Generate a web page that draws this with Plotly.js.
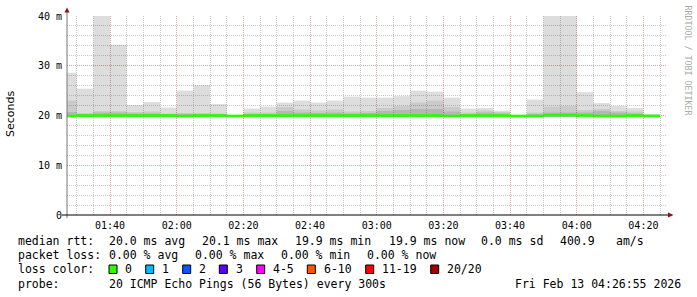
<!DOCTYPE html>
<html>
<head>
<meta charset="utf-8">
<script src="https://cdn.plot.ly/plotly-3.0.1.min.js"></script>
<style>
  html, body { margin: 0; padding: 0; background: #ffffff; }
  #chart { width: 697px; height: 297px; }
</style>
</head>
<body>
<div id="chart"></div>
<script>
// ---- data ----
const day = '2026-02-13';
const intervalEnds = ['01:30','01:35','01:40','01:45','01:50','01:55','02:00','02:05','02:10','02:15','02:20','02:25',
  '02:30','02:35','02:40','02:45','02:50','02:55','03:00','03:05','03:10','03:15','03:20','03:25',
  '03:30','03:35','03:40','03:45','03:50','03:55','04:00','04:05','04:10','04:15','04:20','04:25'];
// smoke (ms) - outer max, middle layer, inner layer, bottom
const smokeMax = [28.6,25.4,41,34.2,22.1,22.7,21.6,25.0,26.1,22.3,20.1,21.4,21.8,22.6,23.0,22.6,23.0,23.8,
  23.6,23.6,23.9,25.0,24.8,23.6,21.4,21.5,21.0,20.1,23.2,41,41,24.7,22.5,21.9,21.5,20.3];
const smokeMid = [23.0,20.5,20.9,20.9,20.7,20.8,20.4,20.5,20.5,20.4,20.0,20.6,20.6,21.7,21.2,21.0,21.2,20.8,
  20.9,21.5,21.9,22.6,23.0,21.7,20.6,21.0,20.7,20.0,20.6,21.8,21.9,21.1,21.3,20.9,20.8,20.1];
const smokeInner = [20.7,20.3,20.6,20.6,20.4,20.4,20.2,20.3,20.3,20.2,20.0,20.3,20.3,20.9,20.6,20.5,20.6,20.4,
  20.5,20.9,21.1,21.3,21.3,20.8,20.3,20.6,20.4,20.0,20.3,20.6,20.6,20.6,20.9,20.6,20.4,20.0];
const smokeLow = [19.7,19.7,19.7,19.7,19.7,19.7,19.7,19.7,19.7,19.7,19.7,19.7,19.7,19.7,19.7,19.7,19.7,19.7,
  19.7,19.7,19.7,19.7,19.7,19.7,19.7,19.7,19.7,19.7,19.7,19.7,19.7,19.7,19.7,19.7,19.7,19.7];
const medianRtt = [19.9,20.0,20.0,20.0,20.0,20.0,20.0,19.9,20.0,20.0,19.9,20.0,20.0,20.0,20.0,20.0,20.0,20.0,
  20.0,20.0,20.0,20.0,20.0,19.9,20.0,20.0,20.0,19.9,19.9,20.1,20.1,20.0,19.9,19.9,20.0,19.9];

const xTickLabels = ['01:40','02:00','02:20','02:40','03:00','03:20','03:40','04:00','04:20'];
const yTickValues = [0,10,20,30,40];
const yTickLabels = ['0','10 m','20 m','30 m','40 m'];

const lossLabels = ['0','1','2','3','4-5','6-10','11-19','20/20'];
const lossColors = ['#26ff00','#00b8ff','#0059ff','#5e00ff','#ff00ff','#ff5500','#ff0000','#a00000'];

const legendRows = [
  [['median rtt:',16],['20.0 ms avg',107.3],['20.1 ms max',200],['19.9 ms min',293],['19.9 ms now',386.7],['0.0 ms sd',479],['400.9',558],['am/s',614]],
  [['packet loss:',16],['0.00 % avg',107.3],['0.00 % max',193.3],['0.00 % min',279.3],['0.00 % now',365]],
  [['loss color:',16]],
  [['probe:',16],['20 ICMP Echo Pings (56 Bytes) every 300s',107.3],['Fri Feb 13 04:26:55 2026',513.3]]
];
const legendRowY = [241.3,255.3,269.3,283.5];
const lossBoxX = [109,145.7,182.7,219.3,256.7,307.3,365.7,430.7];

// ---- geometry helpers ----
const W = 697, H = 297, L = 67, R = 30, T = 16, B = 82;
const PW = W - L - R, PH = H - T - B;
const px = v => (v - L) / PW;
const py = v => (H - B - v) / PH;
const ts = hm => day + ' ' + hm + ':00';
const xStart = day + ' 01:27:05', xEnd = day + ' 04:27:05';

const xEndsT = intervalEnds.map(ts);
const STEP = 300000;
const mono = 'DejaVu Sans Mono, Liberation Mono, monospace';

function smokeTrace(top, bottom, color) {
  return {
    type: 'bar', x: xEndsT, base: bottom,
    y: top.map((v, i) => v - bottom[i]),
    width: STEP, offset: -STEP,
    marker: { color: color, line: { width: 0 } },
    hoverinfo: 'skip', showlegend: false
  };
}

// translucent smoke so the grid shows through (as in rrdtool)
const traces = [
  smokeTrace(smokeMax, smokeLow, 'rgba(0,0,0,0.135)'),
  smokeTrace(smokeMid, smokeLow, 'rgba(0,0,0,0.085)'),
  smokeTrace(smokeInner, smokeLow, 'rgba(0,0,0,0.10)')
];

// median rtt line (loss 0 colour)
const halfLine = 0.27;
traces.push({
  type: 'bar', x: xEndsT, base: medianRtt.map(v => v - halfLine),
  y: medianRtt.map(() => 2 * halfLine), width: STEP, offset: -STEP,
  marker: { color: lossColors[0], line: { width: 0 } }, hoverinfo: 'skip', showlegend: false
});

// minor grid positions
function hm(m) { const h = Math.floor(m / 60), mm = m % 60; return String(h).padStart(2,'0') + ':' + String(mm).padStart(2,'0'); }
const minorX = [], minorY = [];
for (let m = 90; m <= 265; m += 5) if ((m - 100) % 20 !== 0) minorX.push(ts(hm(m)));
for (let v = 2; v < 40; v += 2) if (v % 10 !== 0) minorY.push(v);

// ---- annotations ----
const annotations = [];
legendRows.forEach((row, r) => row.forEach(([t, x]) => annotations.push({
  text: t, xref: 'paper', yref: 'paper', x: px(x), y: py(legendRowY[r]),
  xanchor: 'left', yanchor: 'middle', showarrow: false,
  font: { family: mono, size: 11.5, color: '#000000' }
})));
lossLabels.forEach((lab, i) => annotations.push({
  text: lab, xref: 'paper', yref: 'paper', x: px(lossBoxX[i] + 14.3), y: py(legendRowY[2]),
  xanchor: 'left', yanchor: 'middle', showarrow: false,
  font: { family: mono, size: 11.5, color: '#000000' }
}));
annotations.push({
  text: 'Seconds', xref: 'paper', yref: 'paper', x: px(10), y: py(114),
  xanchor: 'center', yanchor: 'middle', textangle: -90, showarrow: false,
  font: { family: 'DejaVu Sans, sans-serif', size: 11, color: '#000000' }
});
annotations.push({
  text: 'RRDTOOL / TOBI OETIKER', xref: 'paper', yref: 'paper', x: px(687.5), y: py(60),
  xanchor: 'center', yanchor: 'middle', textangle: 90, showarrow: false,
  font: { family: mono, size: 8.3, color: '#aaaaaa' }
});

// ---- shapes: axes, arrows, legend boxes ----
const shapes = [
  { type: 'line', xref: 'paper', yref: 'paper', x0: px(67), x1: px(67), y0: py(218), y1: py(10),
    line: { color: '#777777', width: 1 } },
  { type: 'line', xref: 'paper', yref: 'paper', x0: px(62), x1: px(668), y0: py(215), y1: py(215),
    line: { color: '#000000', width: 1 } },
  { type: 'path', xref: 'paper', yref: 'paper',
    path: `M ${px(64.5)} ${py(12.5)} L ${px(69.5)} ${py(12.5)} L ${px(67)} ${py(7.5)} Z`,
    fillcolor: '#8b1010', line: { width: 0 } },
  { type: 'path', xref: 'paper', yref: 'paper',
    path: `M ${px(668)} ${py(212.5)} L ${px(668)} ${py(217.5)} L ${px(673.5)} ${py(215)} Z`,
    fillcolor: '#8b1010', line: { width: 0 } }
];
lossBoxX.forEach((bx, i) => shapes.push({
  type: 'rect', xref: 'paper', yref: 'paper', x0: px(bx), x1: px(bx + 8), y0: py(273.5), y1: py(265),
  fillcolor: lossColors[i], line: { color: '#000000', width: 1 }
}));

const layout = {
  width: W, height: H,
  margin: { l: L, r: R, t: T, b: B, pad: 0 },
  paper_bgcolor: '#ffffff', plot_bgcolor: '#ffffff',
  barmode: 'overlay', showlegend: false, hovermode: false,
  xaxis: {
    type: 'date', range: [xStart, xEnd], fixedrange: true,
    showgrid: true, gridcolor: '#e3a3a3', gridwidth: 1, griddash: '1px,1px',
    zeroline: false, showline: false, ticks: '',
    tickmode: 'array', tickvals: xTickLabels.map(ts), ticktext: xTickLabels,
    tickfont: { family: mono, size: 10, color: '#000000' }, ticklabelstandoff: 3,
    minor: { tickmode: 'array', tickvals: minorX, showgrid: true, gridcolor: '#cacaca', gridwidth: 1, griddash: '1px,1px', ticks: '' }
  },
  yaxis: {
    range: [0, 40], fixedrange: true,
    showgrid: true, gridcolor: '#e3a3a3', gridwidth: 1, griddash: '1px,1px',
    zeroline: false, showline: false, ticks: '',
    tickmode: 'array', tickvals: yTickValues, ticktext: yTickLabels,
    tickfont: { family: mono, size: 10, color: '#000000' }, ticklabelstandoff: 4,
    minor: { tickmode: 'array', tickvals: minorY, showgrid: true, gridcolor: '#cacaca', gridwidth: 1, griddash: '1px,1px', ticks: '' }
  },
  annotations: annotations,
  shapes: shapes
};

Plotly.newPlot('chart', traces, layout, { staticPlot: true, displayModeBar: false });
</script>
</body>
</html>
